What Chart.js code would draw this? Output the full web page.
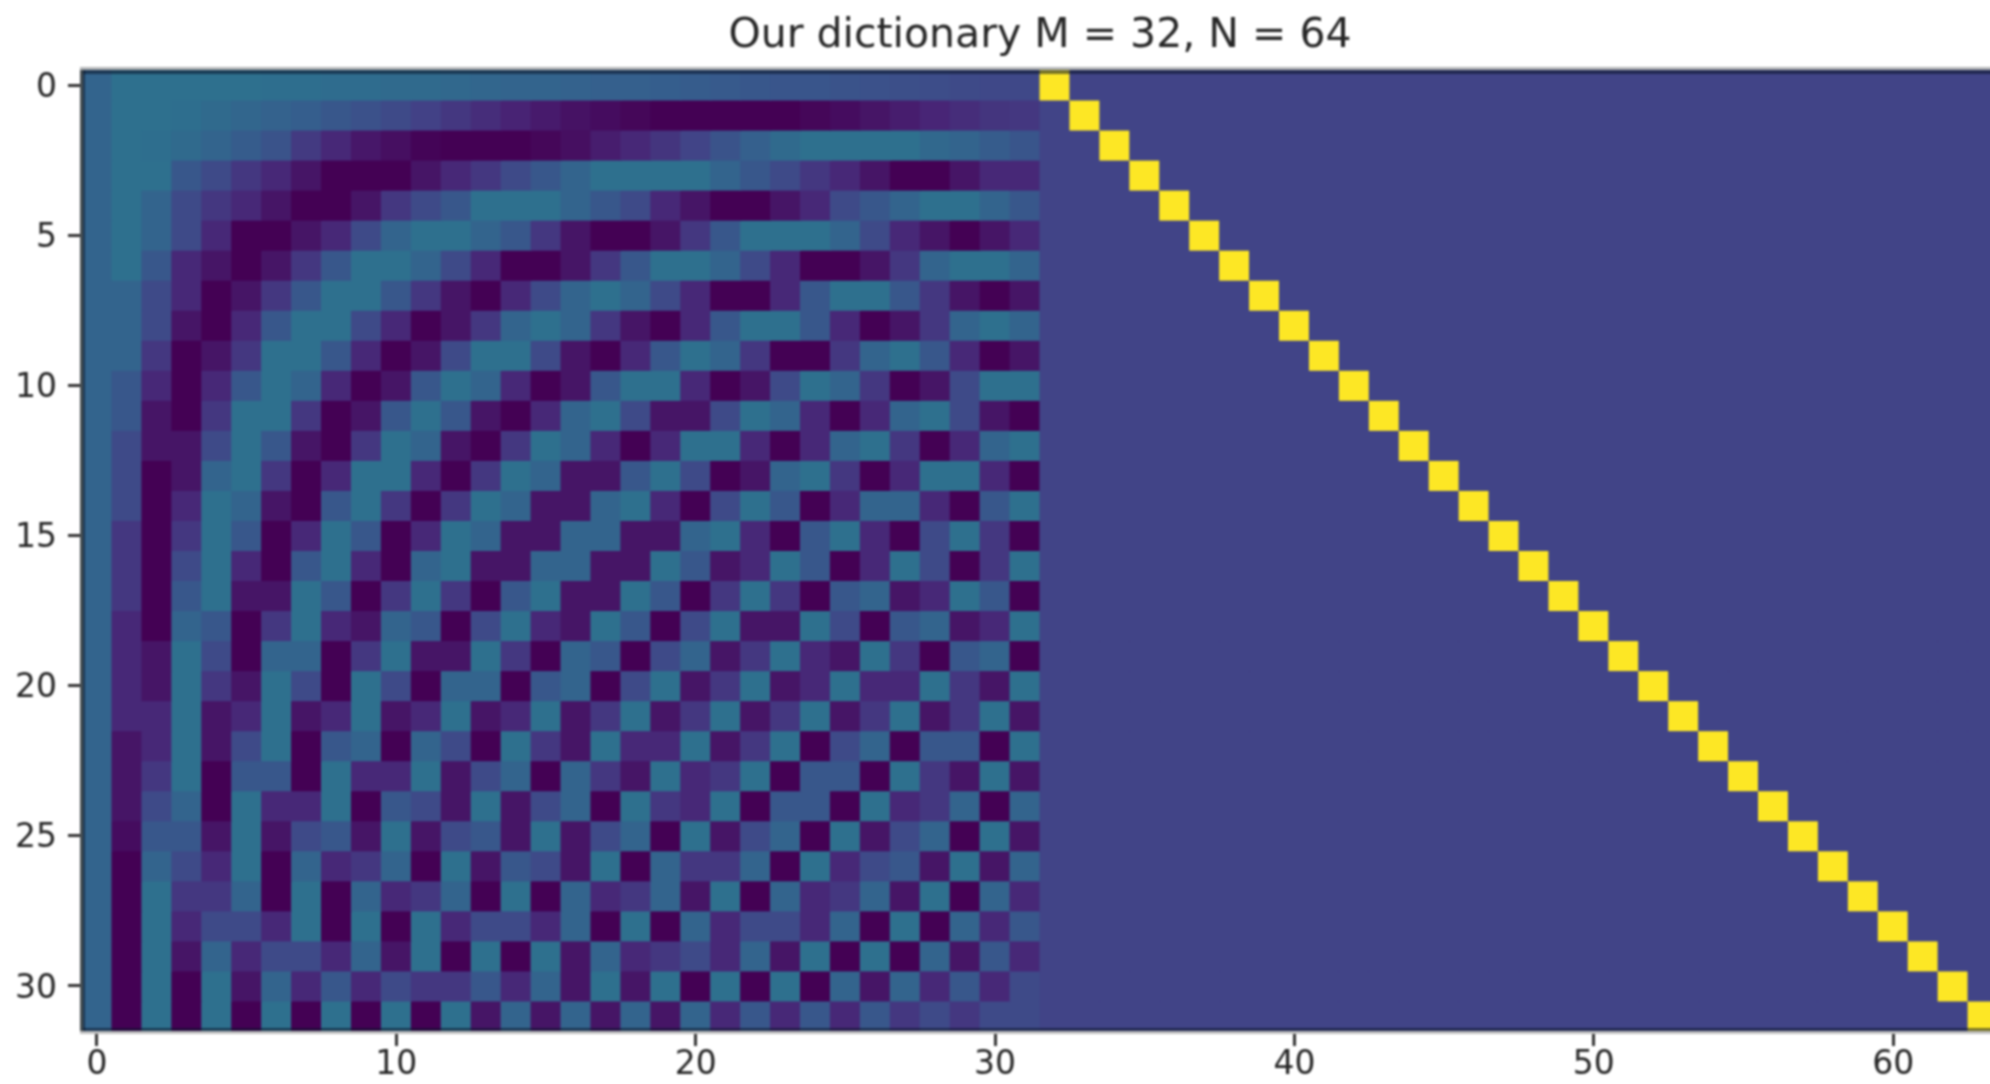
<!DOCTYPE html>
<html>
<head>
<meta charset="utf-8">
<script src="https://cdn.jsdelivr.net/npm/chart.js@4/dist/chart.umd.min.js"></script>
<style>
  html, body { margin: 0; padding: 0; background: #fff; overflow: hidden; width: 1990px; height: 1084px; }
  canvas { position: absolute; left: 0; top: 0; filter: blur(1.2px); }
</style>
</head>
<body>
<canvas id="chart" width="1998" height="1084"></canvas>
<script>
// cell values, in hundredths, columns 0-31 of every row
const T = 21, B = 15, b = 9, i = 3, p = -5, P = -11, d = -18, D = -25;
const dctRows = [
  [15,21,21,21,21,21,20,20,19,19,18,18,17,16,15,15, 14,13,13,12,11,10,9,8,8,7,6,5,4,3,2,2],
  [15,21,21,20,18,16,14,12,9,6,3,-1,-5,-9,-13,-16, -19,-21,-23,-25,-25,-25,-25,-25,-23,-21,-18,-15,-12,-9,-6,-5],
  [15,21,20,18,15,11,7,-4,-11,-17,-20,-24,-25,-25,-25,-23, -20,-15,-11,-6,0,7,13,18,21,21,21,21,17,15,11,8],
  [B,T,T,b,i,p,P,d,D,D,D,d,P,p,i,b, B,T,T,T,T,B,b,i,p,P,d,D,D,d,P,P],
  [B,T,B,i,p,P,d,D,D,d,p,i,b,T,T,T, B,b,i,P,d,D,D,d,P,i,b,B,T,T,B,b],
  [B,T,B,i,P,D,D,d,P,i,B,T,T,B,b,p, d,D,D,d,p,b,T,T,T,B,i,P,d,D,d,P],
  [B,T,b,P,d,D,d,p,b,T,T,B,i,P,D,D, d,p,b,T,T,B,i,P,D,D,d,p,B,T,T,B],
  [B,B,i,P,D,d,p,b,T,T,b,p,d,D,P,i, B,T,B,i,P,D,D,P,b,T,T,b,p,d,D,d],
  [B,B,i,d,D,P,b,T,T,i,P,D,d,p,B,T, B,p,d,D,P,b,T,T,b,P,D,d,p,B,T,B],
  [B,B,p,D,d,p,T,T,b,P,D,d,i,T,T,i, d,D,P,b,T,B,p,D,D,p,B,T,b,P,D,d],
  [B,b,P,D,P,b,T,B,P,D,d,b,T,B,P,D, d,b,T,T,P,D,d,i,T,B,p,D,d,i,T,T],
  [B,b,d,D,p,T,T,p,D,d,b,T,b,d,D,P, B,T,i,d,d,i,T,B,P,D,P,B,T,i,d,D],
  [B,i,d,d,i,T,b,d,D,p,T,B,d,D,p,T, B,P,D,P,T,T,P,D,P,B,T,p,D,P,B,T],
  [B,i,D,d,B,T,p,D,P,T,T,P,D,p,T,B, d,d,b,T,i,D,d,B,T,p,D,P,T,T,P,D],
  [B,i,D,P,T,B,d,D,b,T,p,D,p,T,B,d, d,B,T,P,D,i,T,b,D,P,B,B,P,D,b,T],
  [B,p,D,p,T,b,D,P,T,b,D,P,T,B,d,d, B,B,d,d,B,T,P,D,b,T,P,D,i,T,p,D],
  [B,p,D,i,T,P,D,b,T,P,D,B,T,d,d,B, B,d,d,T,b,d,P,T,b,D,P,T,i,D,p,T],
  [B,p,D,b,T,d,d,T,b,D,p,T,p,D,b,T, d,d,T,b,D,p,T,p,D,b,B,d,P,T,b,D],
  [B,P,D,B,b,D,p,T,P,d,B,b,D,i,T,P, d,T,b,D,i,T,d,d,T,i,D,b,B,d,P,T],
  [B,P,d,T,i,D,B,B,D,p,T,d,d,T,p,D, B,b,D,i,B,d,p,T,P,d,T,p,D,b,B,D],
  [B,P,d,T,p,d,T,i,D,T,i,D,B,B,D,b, B,D,i,T,d,p,T,d,P,T,P,P,T,p,d,T],
  [B,P,P,T,d,P,T,d,P,T,d,P,T,d,P,T, d,p,T,d,p,T,d,p,T,d,p,T,d,p,T,d],
  [B,d,P,T,d,i,T,D,b,B,D,B,i,D,T,p, d,T,P,P,T,d,p,T,D,i,B,D,b,b,D,T],
  [B,d,p,T,D,b,b,D,T,P,P,T,d,i,B,D, B,p,d,T,P,p,T,D,b,b,D,T,p,d,T,d],
  [B,d,i,B,D,T,P,P,T,D,b,i,d,T,d,i, B,D,T,p,P,T,D,b,b,D,T,P,p,B,D,B],
  [B,-21,b,b,d,T,d,i,b,d,T,d,i,b,d,T, d,i,B,D,T,d,i,B,D,T,d,i,B,D,T,d],
  [B,D,B,i,P,T,D,B,P,p,B,D,T,d,b,i, d,T,D,B,p,p,B,D,T,P,i,b,d,T,d,B],
  [B,D,T,p,p,B,D,T,D,B,P,p,B,D,T,D, B,P,p,B,d,T,D,B,P,p,B,d,T,D,B,P],
  [B,D,T,P,i,i,P,T,D,T,D,T,P,i,i,P, B,D,T,D,B,P,i,i,P,B,D,T,D,B,P,b],
  [B,D,T,d,B,P,i,i,P,B,d,T,D,T,D,T, d,B,P,p,i,P,B,d,T,D,T,D,B,d,b,P],
  [B,D,T,D,T,d,B,P,b,P,i,p,p,b,P,B, d,T,d,T,D,T,D,T,D,B,d,B,P,b,P,i],
  [B,D,T,D,T,D,T,D,T,D,T,D,T,d,B,d, B,d,B,d,B,P,b,P,b,P,b,p,i,p,i,i]
];
// column of the yellow cell in each row
const diagonalColumns = [32,33,34,35,36,37,38,39,40,41,42,43,44,45,46,47,48,49,50,51,52,53,54,55,56,57,58,59,60,61,62,63];
const diagonalValue = 100;
const columnCount = 64;
const xTickValues = [0,10,20,30,40,50,60];
const yTickValues = [0,5,10,15,20,25,30];
const chartTitle = 'Our dictionary M = 32, N = 64';

// matplotlib viridis, every 0.1
const viridis = [[68,1,84],[72,36,117],[65,68,135],[53,95,141],[42,120,142],[33,145,140],[34,168,132],[68,191,112],[122,209,81],[189,223,38],[253,231,37]];
const vmin = -25, vmax = 100;

function cellColor(v) {
  const t = (v - vmin) / (vmax - vmin) * 10;
  const k = Math.min(Math.floor(t), 9), f = t - k;
  const c = [0,1,2].map(n => Math.round(viridis[k][n] + (viridis[k+1][n] - viridis[k][n]) * f));
  return `rgb(${c[0]},${c[1]},${c[2]})`;
}

const labels = [];
for (let c = 0; c < columnCount; c++) labels.push(String(c));

const datasets = dctRows.map((row, r) => {
  const values = row.slice();
  for (let c = row.length; c < columnCount; c++) values.push(c === diagonalColumns[r] ? diagonalValue : 0);
  return {
    label: 'row ' + r,
    data: values.map(() => [r - 0.5, r + 0.5]),
    backgroundColor: values.map(cellColor),
    borderWidth: 0,
    inflateAmount: 0.5,
    barPercentage: 1,
    categoryPercentage: 1,
    grouped: false
  };
});

// the image frame: light outer line, dark inner line
const framePlugin = {
  id: 'frame',
  afterDraw(chart) {
    const a = chart.chartArea, ctx = chart.ctx;
    ctx.save();
    ctx.fillStyle = 'rgba(10,20,40,0.55)';
    ctx.fillRect(a.left, a.top, a.width, 4);
    ctx.fillRect(a.left, a.bottom - 3, a.width, 3);
    ctx.fillRect(a.left, a.top, 3, a.height);
    ctx.fillStyle = '#b4b6b8';
    ctx.fillRect(a.left - 2, a.top - 3, a.width + 2, 3);
    ctx.fillStyle = '#c0c0c0';
    ctx.fillRect(a.left - 2, a.bottom, a.width + 2, 3);
    ctx.fillStyle = '#464e52';
    ctx.fillRect(a.left - 2, a.top, 3, a.height);
    ctx.restore();
  }
};

const tickFont = { family: '"DejaVu Sans"', size: 33 };

new Chart(document.getElementById('chart'), {
  type: 'bar',
  data: { labels, datasets },
  plugins: [framePlugin],
  options: {
    responsive: false,
    devicePixelRatio: 1,
    animation: false,
    layout: { padding: 0 },
    plugins: {
      legend: { display: false },
      tooltip: { enabled: false },
      title: {
        display: true,
        text: chartTitle,
        fullSize: false,
        color: '#262626',
        font: { family: '"DejaVu Sans"', size: 41, weight: 'normal', lineHeight: '44px' },
        padding: { top: 14, bottom: 12 }
      }
    },
    scales: {
      x: {
        type: 'category',
        offset: true,
        grid: { offset: false, drawOnChartArea: false, tickLength: 15, tickColor: '#333', tickWidth: 3 },
        border: { display: false },
        ticks: { color: '#262626', font: tickFont, padding: 0, autoSkip: false, maxRotation: 0, minRotation: 0 },
        afterBuildTicks(scale) { scale.ticks = xTickValues.map(v => ({ value: v, label: String(v) })); },
        afterFit(scale) { scale.height = 53; }
      },
      y: {
        type: 'linear',
        reverse: true,
        min: -0.5,
        max: 31.5,
        grid: { drawOnChartArea: false, tickLength: 14, tickColor: '#333', tickWidth: 3 },
        border: { display: false },
        ticks: { color: '#262626', font: tickFont, padding: 11, labelOffset: 3 },
        afterBuildTicks(scale) { scale.ticks = yTickValues.map(v => ({ value: v })); },
        afterFit(scale) { scale.width = 82; }
      }
    }
  }
});
</script>
</body>
</html>
